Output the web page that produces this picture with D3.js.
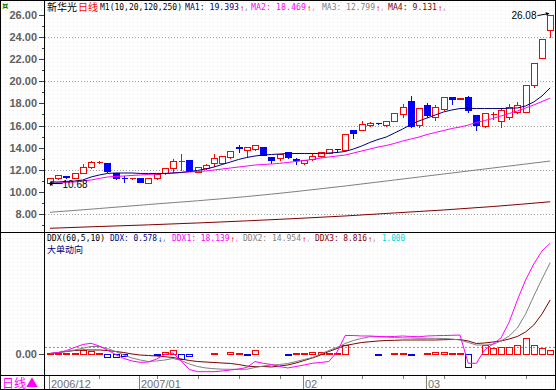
<!DOCTYPE html>
<html>
<head>
<meta charset="utf-8">
<title>新华光 日线</title>
<script src="https://cdn.jsdelivr.net/npm/d3@7/dist/d3.min.js"></script>
<style>
  body { margin: 0; background: #fff; }
  svg { display: block; }
  .num { font-family: "Liberation Sans", Arial, sans-serif; }
  .mono { font-family: "DejaVu Sans Mono", monospace; }
  .cjk { font-family: "Noto Sans CJK SC", sans-serif; }
</style>
</head>
<body>
<svg id="chart" width="556" height="390"></svg>
<script>
// daily K-line, 2006/12/15 .. 2007/03/22
const openP  = [10.85,11.24,11.42,11.30,11.75,12.23,12.72,12.65,11.70,11.27, 11.27,11.24,10.85,11.24,11.70,12.20,12.78,12.89,11.84,12.14, 12.59,12.65,13.14,14.02,13.79,13.86,14.09,13.19,13.05,13.64, 12.97,12.59,12.95,13.25,13.55,13.88,13.79,15.59,15.59,16.04, 16.27,16.04,16.43,17.01,18.21,16.04,17.85,16.74,17.46,18.59, 18.43,18.59,16.95,15.96,17.05,16.40,16.74,17.24,17.24,19.65, 22.11,24.60];
const highP  = [11.30,11.60,11.55,11.76,12.58,12.86,12.90,12.70,11.80,11.50, 11.40,11.30,11.30,11.66,12.20,13.04,13.52,12.95,12.35,12.60, 13.52,13.30,13.76,14.31,14.12,14.30,14.12,13.22,13.50,13.70, 13.20,12.95,13.60,13.70,13.92,14.00,15.25,15.62,16.50,16.45, 16.35,16.45,17.15,18.04,18.75,17.60,18.10,17.90,18.65,18.62, 18.55,18.75,17.00,17.20,17.35,17.69,18.05,18.20,19.70,21.65, 23.85,26.08];
const lowP   = [10.68,11.18,11.28,11.24,11.70,12.18,12.60,11.85,11.22,10.90, 11.20,10.90,10.80,11.20,11.65,11.84,12.00,11.95,11.80,12.10, 12.35,12.60,13.10,13.64,13.19,13.80,13.30,12.59,12.90,13.05, 12.50,12.55,12.90,13.20,13.50,13.70,13.75,14.90,15.55,15.95, 16.15,16.00,16.40,16.78,15.90,15.90,16.80,16.50,17.40,17.92, 18.35,17.25,15.59,15.90,16.60,15.90,16.58,17.10,17.20,19.50, 22.05,24.00];
const closeP = [11.24,11.54,11.38,11.70,12.29,12.68,12.75,11.90,11.30,11.23, 11.30,10.94,11.24,11.60,12.14,12.83,12.81,11.99,12.29,12.44, 13.05,13.25,13.70,13.98,14.09,14.24,13.34,12.89,13.43,13.14, 12.93,12.89,13.25,13.64,13.86,13.84,15.21,15.30,16.13,16.25, 16.23,16.41,17.10,17.69,15.96,17.55,16.95,17.64,18.59,18.36, 18.46,17.40,16.04,17.15,17.08,17.40,17.69,17.85,19.65,21.60, 23.79,25.98];

// moving averages
const ma1 = [10.91,10.91,10.96,11.00,11.09,11.36,11.54,11.68,11.72,11.72, 11.72,11.68,11.68,11.68,11.68,11.72,11.77,11.86,11.95,12.08, 12.26,12.49,12.71,12.94,13.12,13.25,13.34,13.39,13.43,13.48, 13.48,13.48,13.48,13.48,13.52,13.57,13.66,13.88,14.15,14.47, 14.74,14.96,15.32,15.68,16.09,16.41,16.68,16.95,17.22,17.40, 17.53,17.55,17.53,17.53,17.53,17.53,17.55,17.58,17.76,18.12, 18.66,19.393];
const ma2 = [10.77,10.82,10.87,10.91,11.00,11.09,11.23,11.36,11.41,11.45, 11.50,11.54,11.59,11.63,11.68,11.72,11.77,11.81,11.86,11.90, 11.99,12.08,12.17,12.26,12.35,12.44,12.49,12.53,12.59,12.67, 12.76,12.85,12.94,13.07,13.16,13.25,13.34,13.52,13.70,13.88, 14.06,14.20,14.38,14.60,14.78,14.96,15.19,15.37,15.55,15.73, 15.86,16.04,16.27,16.45,16.63,16.86,17.08,17.31,17.58,17.85, 18.16,18.469];
const maLongIdx = [0, 6, 12, 18, 24, 30, 36, 42, 48, 54, 61];
const ma3 = [8.18, 8.52, 8.88, 9.22, 9.60, 10.05, 10.55, 11.09, 11.63, 12.17, 12.799];
const ma4 = [6.74, 6.90, 7.05, 7.22, 7.41, 7.62, 7.85, 8.12, 8.39, 8.70, 9.131];

// DDX(60,5,10)
const ddx  = [0.05,0.05,0.05,0.05,0.5,0.35,0.05,-0.5,-0.5,-0.4, -0.05,-0.05,-0.05,-0.3,0.3,0.5,-0.9,-0.45,-0.05,-0.05, 0.05,-0.05,0.3,0.05,-0.3,0.6,-0.05,-0.05,-0.05,-0.3, 0.05,0.05,0.3,0.3,0.05,0.05,1.4,-0.05,-0.05,-0.05, -0.3,-0.05,0.05,0.05,-0.3,-0.05,0.05,0.3,0.3,0.05, 0.05,-2.2,-0.05,1.4,0.9,1.1,1.1,1.4,2.5,1.4, 0.9,0.578];
const ddx1 = [0,0.16,0.49,0.99,1.48,1.68,1.23,0.58,-0.16,-0.82, -1.23,-1.45,-1.40,-0.90,-0.16,0.08,-1.23,-2.63,-2.99,-2.99, -2.99,-2.88,-2.71,-2.55,-2.30,-1.32,-1.61,-1.81,-2.14,-2.38, -2.14,-1.89,-1.61,-1.48,-1.32,0.25,2.96,2.96,2.88,2.88, 2.80,2.76,2.80,2.88,2.80,2.76,2.88,2.93,2.96,2.99, 3.04,-1.61,-1.61,0.58,1.56,2.55,5.18,8.80,12.09,14.72, 16.86,18.139];
const ddx2 = [0,0.16,0.33,0.58,0.86,1.15,1.15,0.82,0.33,-0.25, -0.74,-1.07,-1.32,-1.23,-1.07,-0.82,-1.15,-1.73,-2.14,-2.38, -2.50,-2.58,-2.60,-2.60,-2.60,-2.30,-2.06,-1.89,-1.81,-1.64, -1.32,-0.99,-0.66,-0.08,0.49,0.99,1.64,2.14,2.47,2.76, 2.76,2.71,2.63,2.58,2.55,2.50,2.50,2.50,2.47,2.38, 2.22,1.81,1.40,1.40,1.48,2.06,2.88,4.19,6.50,9.46, 12.25,14.954];
const ddx3 = [0,0.16,0.33,0.49,0.58,0.58,0.58,0.49,0.33,0.16, -0.08,-0.25,-0.33,-0.41,-0.53,-0.66,-0.90,-1.15,-1.32,-1.40, -1.48,-1.56,-1.64,-1.81,-2.06,-2.17,-2.14,-2.22,-2.06,-1.89, -1.56,-1.15,-0.74,-0.25,0.33,0.82,1.32,1.56,1.81,1.94, 2.06,2.14,2.17,2.22,2.22,2.22,2.22,2.22,2.27,2.30, 2.30,2.06,1.64,1.73,1.89,2.06,2.38,2.80,3.54,4.69, 6.50,8.816];

const priceTicks = [8, 10, 12, 14, 16, 18, 20, 22, 24, 26];
const monthStart = [0, 11, 31, 46];
const monthLabel = ['2006/12', '2007/01', '02', '03'];
const weekStart = [6, 13, 18, 23, 28, 33, 38, 43, 48, 53, 58];

const W = 556, H = 390;
const RED = '#ff0000', BLUE = '#0000ff';
const svg = d3.select('#chart');

// background with faint dither
const defs = svg.append('defs');
defs.append('pattern').attr('id', 'dots')
  .attr('width', 4).attr('height', 4).attr('patternUnits', 'userSpaceOnUse')
  .append('rect').attr('x', 1).attr('y', 2).attr('width', 1).attr('height', 1).attr('fill', '#e8e8e8');
defs.append('clipPath').attr('id', 'clipTop')
  .append('rect').attr('x', 45).attr('y', 0).attr('width', 511).attr('height', 232);
defs.append('clipPath').attr('id', 'clipBot')
  .append('rect').attr('x', 45).attr('y', 233).attr('width', 511).attr('height', 142);

svg.append('rect').attr('width', W).attr('height', H).attr('fill', '#fff');
svg.append('rect').attr('width', W).attr('height', H).attr('fill', 'url(#dots)');

const n = closeP.length;
const x = d3.scaleBand().domain(d3.range(n)).range([45.9, 45.9 + n * 8.2]).padding(0);
const xc = i => x(i) + x.bandwidth() / 2;
const px = i => Math.round(xc(i)) + 0.5;

const yP = d3.scaleLinear().domain([8, 26]).range([214.3, 14.5]);
const yD = d3.scaleLinear().domain([0, 10]).range([353.5, 292.7]);

// dotted grid in the price panel
svg.append('g').selectAll('line')
  .data([8, 12, 16, 20, 24])
  .enter().append('line')
  .attr('x1', 45).attr('x2', W)
  .attr('y1', d => Math.round(yP(d)) + 0.5).attr('y2', d => Math.round(yP(d)) + 0.5)
  .attr('stroke', '#a0a0a0').attr('stroke-dasharray', '1,2');

// candles
const kg = svg.append('g').attr('clip-path', 'url(#clipTop)').attr('shape-rendering', 'crispEdges');
const candles = d3.range(n).map(i => ({i, o: openP[i], h: highP[i], l: lowP[i], c: closeP[i]}));

candles.forEach(d => {
  const cx = px(d.i);
  const up = d.c >= d.o;
  const col = up ? RED : BLUE;
  const top = Math.round(yP(Math.max(d.o, d.c))) + 0.5;
  const bot = Math.round(yP(Math.min(d.o, d.c))) + 0.5;
  const hi = Math.round(yP(d.h)) + 0.5;
  const lo = Math.round(yP(d.l)) + 0.5;
  if (up) {
    kg.append('line').attr('x1', cx).attr('x2', cx).attr('y1', hi).attr('y2', top).attr('stroke', col);
    kg.append('line').attr('x1', cx).attr('x2', cx).attr('y1', bot).attr('y2', lo).attr('stroke', col);
  } else {
    kg.append('line').attr('x1', cx).attr('x2', cx).attr('y1', hi).attr('y2', lo).attr('stroke', col);
  }
  if (bot - top < 1) {
    kg.append('line').attr('x1', cx - 3).attr('x2', cx + 3).attr('y1', top).attr('y2', top).attr('stroke', col);
  } else {
    kg.append('rect')
      .attr('x', cx - 3).attr('y', top)
      .attr('width', 6).attr('height', bot - top)
      .attr('fill', up ? '#fff' : col)
      .attr('stroke', col);
  }
});

// moving average lines
const lg = svg.append('g').attr('clip-path', 'url(#clipTop)').attr('fill', 'none');
const maLine = d3.line().x((d, i) => xc(i)).y(d => yP(d));
const maLongLine = d3.line().x((d, k) => xc(maLongIdx[k])).y(d => yP(d)).curve(d3.curveMonotoneX);
lg.append('path').attr('d', maLongLine(ma4)).attr('stroke', '#800000');
lg.append('path').attr('d', maLongLine(ma3)).attr('stroke', '#808080');
lg.append('path').attr('d', maLine(ma2)).attr('stroke', '#ff00ff');
lg.append('path').attr('d', maLine(ma1)).attr('stroke', '#000080');

// max / min markers
const hiY = yP(highP[n - 1]);
svg.append('text').attr('class', 'num')
  .attr('x', px(n - 1) - 14).attr('y', hiY + 5.5)
  .attr('text-anchor', 'end').attr('font-size', 10).attr('fill', '#000')
  .text(highP[n - 1].toFixed(2));
svg.append('line')
  .attr('x1', px(n - 1) - 13).attr('y1', hiY + 2).attr('x2', px(n - 1) - 2).attr('y2', hiY)
  .attr('stroke', '#000');
svg.append('path')
  .attr('d', `M${px(n - 1) - 1},${hiY} l-4,-1.5 l1,3.5 z`).attr('fill', '#000');

const loY = yP(lowP[0]) - 1;
svg.append('line')
  .attr('x1', px(0) + 12).attr('y1', loY).attr('x2', px(0) - 1).attr('y2', loY)
  .attr('stroke', '#000');
svg.append('path')
  .attr('d', `M${px(0) - 2},${loY} l4,-2.5 l0,5 z`).attr('fill', '#000');
svg.append('text').attr('class', 'num')
  .attr('x', px(0) + 12).attr('y', loY + 4)
  .attr('font-size', 10).attr('fill', '#000')
  .text(lowP[0].toFixed(2));

// price axis
const yAxis = d3.axisLeft(yP).tickValues(priceTicks).tickSize(6).tickPadding(1.5).tickFormat(d3.format('.2f'));
const gy = svg.append('g')
  .attr('transform', 'translate(44.5,0)')
  .attr('shape-rendering', 'crispEdges')
  .call(yAxis);
gy.select('.domain').remove();
gy.selectAll('line').attr('stroke', '#404040');
gy.selectAll('text')
  .attr('class', 'num')
  .style('font-size', '11px').style('font-weight', 'bold').style('fill', '#606060');

svg.append('g').attr('shape-rendering', 'crispEdges').selectAll('line')
  .data(d3.range(7, 27))
  .enter().append('line')
  .attr('x1', 41.5).attr('x2', 44.5)
  .attr('y1', d => Math.round(yP(d)) + 0.5).attr('y2', d => Math.round(yP(d)) + 0.5)
  .attr('stroke', '#404040');

// DDX panel
const bg = svg.append('g').attr('clip-path', 'url(#clipBot)');
bg.append('line')
  .attr('x1', 45).attr('x2', W)
  .attr('y1', Math.round(yD(1)) + 0.5).attr('y2', Math.round(yD(1)) + 0.5)
  .attr('stroke', '#00d8d8').attr('stroke-dasharray', '2,2');

bg.append('g').attr('shape-rendering', 'crispEdges').selectAll('rect')
  .data(ddx)
  .enter().append('rect')
  .attr('x', (d, i) => px(i) - 3)
  .attr('y', d => Math.round(yD(Math.max(d, 0))) + 0.5)
  .attr('width', 6)
  .attr('height', d => Math.max(0, Math.round(yD(Math.min(d, 0))) - Math.round(yD(Math.max(d, 0)))))
  .attr('fill', 'none')
  .attr('stroke', d => d >= 0 ? RED : BLUE);

const ddxLine = d3.line().x((d, i) => xc(i)).y(d => yD(d));
bg.append('path').attr('d', ddxLine(ddx3)).attr('fill', 'none').attr('stroke', '#800000');
bg.append('path').attr('d', ddxLine(ddx2)).attr('fill', 'none').attr('stroke', '#808080');
bg.append('path').attr('d', ddxLine(ddx1)).attr('fill', 'none').attr('stroke', '#ff00ff');

const dAxis = d3.axisLeft(yD).tickValues([0]).tickSize(6).tickPadding(1.5).tickFormat(d3.format('.2f'));
const gd = svg.append('g')
  .attr('transform', 'translate(44.5,0)')
  .attr('shape-rendering', 'crispEdges')
  .call(dAxis);
gd.select('.domain').remove();
gd.selectAll('line').attr('stroke', '#404040');
gd.selectAll('text')
  .attr('class', 'num')
  .style('font-size', '11px').style('font-weight', 'bold').style('fill', '#606060');

// frame
const fr = svg.append('g').attr('stroke', '#000').attr('shape-rendering', 'crispEdges');
fr.append('line').attr('x1', 44.5).attr('x2', 44.5).attr('y1', 0).attr('y2', 375);
fr.append('line').attr('x1', 0).attr('x2', W).attr('y1', 232.5).attr('y2', 232.5);
fr.append('line').attr('x1', 0).attr('x2', W).attr('y1', 375.5).attr('y2', 375.5);
fr.append('rect').attr('x', 0.5).attr('y', 0.5).attr('width', W - 1).attr('height', H - 1).attr('fill', 'none');

// date axis
const dg = svg.append('g').attr('shape-rendering', 'crispEdges');
dg.append('line').attr('x1', 44.5).attr('x2', 44.5).attr('y1', 375).attr('y2', H).attr('stroke', '#000');
dg.selectAll('.sep')
  .data(monthStart)
  .enter().append('line')
  .attr('x1', d => Math.round(x(d) + 3) + 0.5).attr('x2', d => Math.round(x(d) + 3) + 0.5)
  .attr('y1', 376).attr('y2', H - 1)
  .attr('stroke', '#808080');
dg.selectAll('.wk')
  .data(weekStart)
  .enter().append('line')
  .attr('x1', d => px(d)).attr('x2', d => px(d))
  .attr('y1', 376).attr('y2', 379)
  .attr('stroke', '#808080');
dg.selectAll('text')
  .data(monthStart)
  .enter().append('text')
  .attr('class', 'num')
  .attr('x', d => Math.round(x(d) + 3) + 2)
  .attr('y', 387.5)
  .attr('font-size', 11).attr('fill', '#707070')
  .text((d, k) => monthLabel[k]);

svg.append('text').attr('class', 'cjk')
  .attr('x', 2).attr('y', 387.5)
  .attr('font-size', 12).attr('fill', '#ff00ff')
  .text('日线▲');

// titles: each piece placed at its own x, squeezed to the width seen in the chart
function seg(g, s, col, x0, y0, len, cls, size) {
  const t = g.append('text')
    .attr('class', cls || 'mono')
    .attr('x', x0).attr('y', y0)
    .attr('font-size', size || 8)
    .attr('fill', col)
    .text(s);
  if (len) t.attr('textLength', len).attr('lengthAdjust', 'spacingAndGlyphs');
  return t;
}
// value + arrow + comma
function item(g, label, col, arrow, arrowCol, x0, y0, len) {
  seg(g, label, col, x0, y0, len);
  seg(g, arrow, arrowCol, x0 + len + 1.5, y0 + 0.5, 3.5, 'mono', 9);
  seg(g, ',', col, x0 + len + 6, y0, 2.5);
}
const tg = svg.append('g');
tg.append('text').attr('x', 2).attr('y', 9).attr('font-size', 10).attr('font-weight', 'bold')
  .attr('fill', '#008000').attr('font-family', 'DejaVu Sans').text('¤');
seg(tg, '新华光', '#000', 47, 10.5, 30, 'cjk', 10);
seg(tg, '日线', RED, 78, 10.5, 20, 'cjk', 10);
seg(tg, 'M1(10,20,120,250)', '#000', 100, 10, 82);
item(tg, 'MA1: ' + ma1[n - 1].toFixed(3), '#000080', '↑', RED, 185, 10, 54);
item(tg, 'MA2: ' + ma2[n - 1].toFixed(3), '#ff00ff', '↑', RED, 251, 10, 55);
item(tg, 'MA3: ' + ma3[ma3.length - 1].toFixed(3), '#808080', '↑', RED, 322, 10, 53);
item(tg, 'MA4: ' + ma4[ma4.length - 1].toFixed(3), '#800000', '↑', RED, 388, 10, 49);

seg(tg, 'DDX(60,5,10)', '#000', 47, 241, 58);
item(tg, 'DDX: ' + ddx[n - 1].toFixed(3), '#000080', '↓', BLUE, 110, 241, 47);
item(tg, 'DDX1: ' + ddx1[n - 1].toFixed(3), '#ff00ff', '↑', RED, 172, 241, 57.5);
item(tg, 'DDX2: ' + ddx2[n - 1].toFixed(3), '#808080', '↑', RED, 243, 241, 58);
item(tg, 'DDX3: ' + ddx3[n - 1].toFixed(3), '#800000', '↑', RED, 315, 241, 52);
seg(tg, (1).toFixed(3), '#00d8d8', 382, 241, 23);
seg(tg, '大单动向', '#000080', 47, 253, 36, 'cjk', 9.5);
</script>
</body>
</html>
